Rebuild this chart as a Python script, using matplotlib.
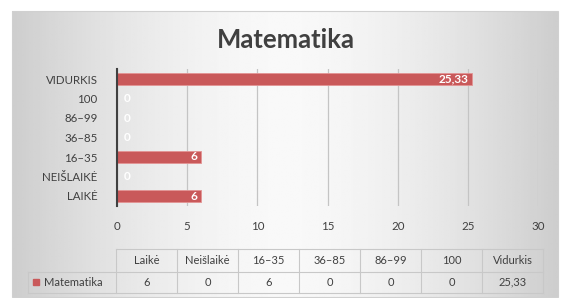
import numpy as np
import matplotlib
matplotlib.use("Agg")
import matplotlib.pyplot as plt
from matplotlib.patches import Rectangle

plt.rcParams['font.family'] = ['Lato', 'DejaVu Sans']

# duomenys
categories = ['LAIKĖ', 'NEIŠLAIKĖ', '16–35', '36–85', '86–99', '100', 'VIDURKIS']
table_headers = ['Laikė', 'Neišlaikė', '16–35', '36–85', '86–99', '100', 'Vidurkis']
values = [6, 0, 6, 0, 0, 0, 25.33]
series_name = 'Matematika'
x_ticks = [0, 5, 10, 15, 20, 25, 30]

bar_color = '#c9595a'
text_color = '#404040'
W, H = 563, 298

fig = plt.figure(figsize=(W / 100, H / 100), dpi=100)

# fonas (pikseliu koordinates)
bg = fig.add_axes([0, 0, 1, 1])
bg.set_xlim(0, W)
bg.set_ylim(H, 0)
bg.axis('off')
gx = np.linspace(0, 1, 300)
grad = 0.975 - 0.17 * (np.abs(gx - 0.5) / 0.5) ** 1.6
img = np.tile(grad, (50, 1))
bg.imshow(img, cmap='gray', vmin=0, vmax=1, extent=[12, 558, 297, 11],
          aspect='auto', zorder=0)
bg.add_patch(Rectangle((12, 11), 546, 286, fill=False, ec='#d0d0d0', lw=0.8, zorder=1))

def fmt(v):
    return ('%.2f' % v).replace('.', ',') if v % 1 else '%d' % v

# lentele
col_w = (543 - 116) / len(table_headers)
edges = [116 + i * col_w for i in range(len(table_headers) + 1)]
y_top, y_mid, y_bot = 249, 271.5, 293
lc = '#c8c8c8'
bg.plot([116, 543], [y_top, y_top], color=lc, lw=0.8)
bg.plot([28, 543], [y_mid, y_mid], color=lc, lw=0.8)
bg.plot([28, 543], [y_bot, y_bot], color=lc, lw=0.8)
bg.plot([28, 28], [y_mid, y_bot], color=lc, lw=0.8)
for e in edges:
    bg.plot([e, e], [y_top, y_bot], color=lc, lw=0.8)
for i, (h, v) in enumerate(zip(table_headers, values)):
    cx = (edges[i] + edges[i + 1]) / 2
    bg.text(cx, (y_top + y_mid) / 2, h, ha='center', va='center', fontsize=8, color=text_color)
    bg.text(cx, (y_mid + y_bot) / 2, fmt(v), ha='center', va='center', fontsize=8, color=text_color)
bg.add_patch(Rectangle((33, 279), 6, 6, color=bar_color))
bg.text(44, (y_mid + y_bot) / 2, series_name, ha='left', va='center', fontsize=8, color=text_color)

bg.text(286, 40, series_name, ha='center', va='center', fontsize=18.5,
        fontweight='bold', color=text_color)

# diagrama
ax = fig.add_axes([117 / W, 1 - 205.75 / H, (538 - 117) / W, (205.75 - 69.25) / H])
ax.patch.set_alpha(0)
y = np.arange(len(categories))
bars = ax.barh(y, values, height=0.58, color=bar_color, edgecolor='#e39494', lw=0.6, zorder=2)
for b, v in zip(bars, values):
    xpos = v - 0.3 if v > 0 else 0.45
    ax.text(xpos, b.get_y() + b.get_height() / 2, fmt(v), ha='right' if v > 0 else 'left',
            va='center', color='white', fontsize=8.5, fontweight='bold', zorder=3)
ax.set_xlim(0, 30)
ax.set_ylim(-0.5, len(categories) - 0.5)
ax.set_xticks(x_ticks)
ax.set_yticks(y)
ax.set_yticklabels(categories)
ax.xaxis.grid(True, color='#c4c4c4', lw=0.9, zorder=0)
ax.set_axisbelow(True)
for s in ['top', 'right', 'bottom']:
    ax.spines[s].set_visible(False)
ax.spines['left'].set_color('#404040')
ax.spines['left'].set_linewidth(1.5)
ax.tick_params(axis='both', length=0, labelsize=8.3, labelcolor=text_color)
ax.tick_params(axis='x', pad=11)
ax.tick_params(axis='y', pad=14)

fig.savefig('out.png', dpi=100)
